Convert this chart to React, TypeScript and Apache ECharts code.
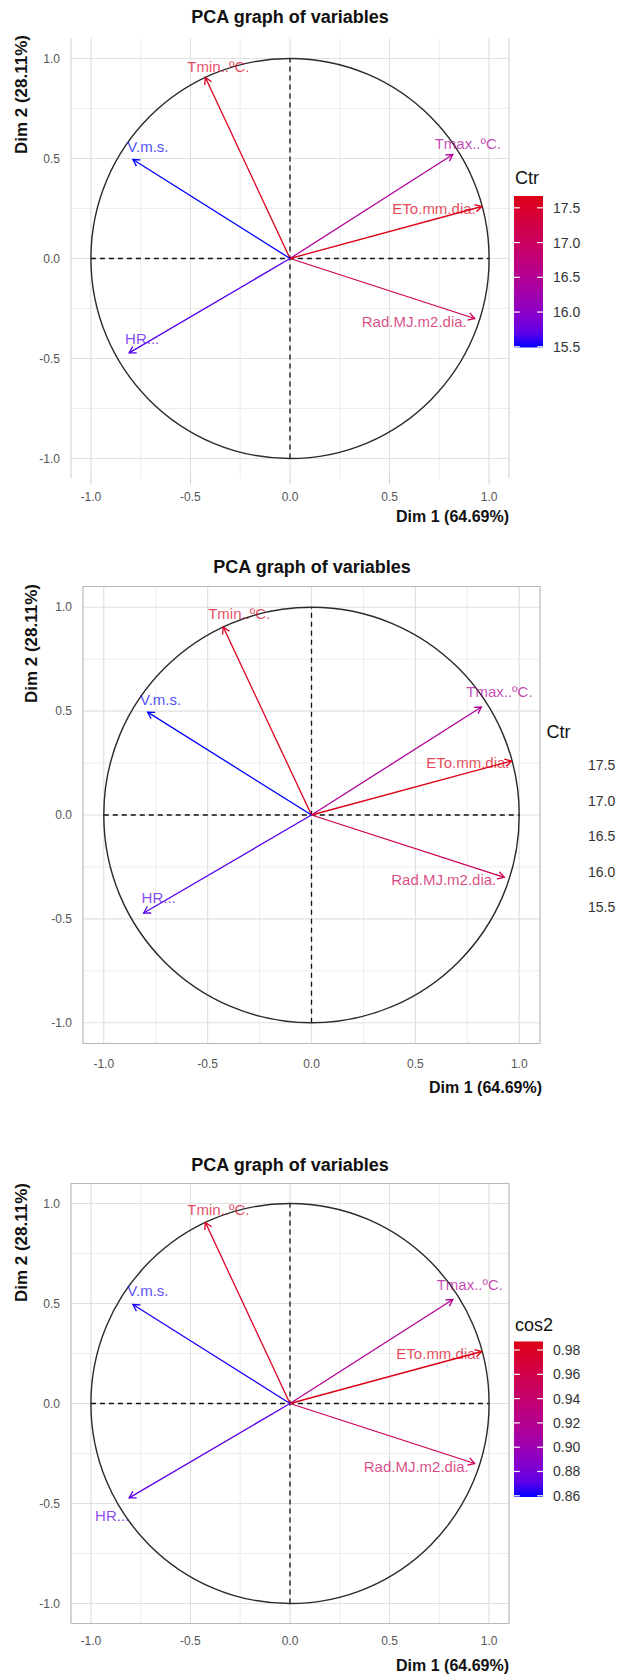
import React, { useEffect, useRef } from "react";
import * as echarts from "echarts";

// ---------- data ----------
const variables = ["Tmin..ºC.", "V.m.s.", "Tmax..ºC.", "ETo.mm.dia.", "Rad.MJ.m2.dia.", "HR..."];
const dim1 = [-0.425, -0.789, 0.818, 0.963, 0.928, -0.808];
const dim2 = [0.905, 0.495, 0.52, 0.26, -0.3, -0.472];
const ctr = [17.6, 15.49, 16.45, 17.67, 17.1, 15.65];
const cos2 = [0.98, 0.86, 0.918, 0.987, 0.952, 0.871];
const axisBreaks = [-1, -0.5, 0, 0.5, 1];
const minorBreaks = [-0.75, -0.25, 0.25, 0.75];
const ctrBreaks = [15.5, 16, 16.5, 17, 17.5];
const cos2Breaks = [0.86, 0.88, 0.9, 0.92, 0.94, 0.96, 0.98];
const ctrLimits = [15.49, 17.67];
const cos2Limits = [0.859, 0.987];
const axisLimits = [-1.1, 1.1];
const titleText = "PCA graph of variables";
const xName = "Dim 1 (64.69%)";
const yName = "Dim 2 (28.11%)";

// ---------- colour scale (Lab interpolation, like ggplot) ----------
const LOW = "#0000FF";
const HIGH = "#DC0014";
function hex2rgb(h: string) {
  const n = parseInt(h.slice(1), 16);
  return [(n >> 16) & 255, (n >> 8) & 255, n & 255];
}
function toLin(c: number) {
  c /= 255;
  return c <= 0.04045 ? c / 12.92 : Math.pow((c + 0.055) / 1.055, 2.4);
}
function fromLin(c: number) {
  const v = c <= 0.0031308 ? 12.92 * c : 1.055 * Math.pow(Math.max(c, 0), 1 / 2.4) - 0.055;
  return Math.round(Math.min(1, Math.max(0, v)) * 255);
}
const Xn = 0.95047, Zn = 1.08883;
function fL(t: number) { return t > 216 / 24389 ? Math.cbrt(t) : ((24389 / 27) * t + 16) / 116; }
function fLinv(t: number) { const t3 = t * t * t; return t3 > 216 / 24389 ? t3 : (116 * t - 16) / (24389 / 27); }
function rgb2lab(rgb: number[]) {
  const [r, g, b] = rgb.map(toLin);
  const X = (0.4124564 * r + 0.3575761 * g + 0.1804375 * b) / Xn;
  const Y = 0.2126729 * r + 0.7151522 * g + 0.072175 * b;
  const Z = (0.0193339 * r + 0.119192 * g + 0.9503041 * b) / Zn;
  const fx = fL(X), fy = fL(Y), fz = fL(Z);
  return [116 * fy - 16, 500 * (fx - fy), 200 * (fy - fz)];
}
function lab2css(lab: number[]) {
  const [L, a, b] = lab;
  const fy = (L + 16) / 116, fx = fy + a / 500, fz = fy - b / 200;
  const X = fLinv(fx) * Xn, Y = fLinv(fy), Z = fLinv(fz) * Zn;
  const r = 3.2404542 * X - 1.5371385 * Y - 0.4985314 * Z;
  const g = -0.969266 * X + 1.8760108 * Y + 0.041556 * Z;
  const bb = 0.0556434 * X - 0.2040259 * Y + 1.0572252 * Z;
  return "rgb(" + fromLin(r) + "," + fromLin(g) + "," + fromLin(bb) + ")";
}
const labLow = rgb2lab(hex2rgb(LOW));
const labHigh = rgb2lab(hex2rgb(HIGH));
function gradColor(t: number) {
  const u = Math.min(1, Math.max(0, t));
  return lab2css(labLow.map((v, i) => v + (labHigh[i] - v) * u));
}

// ---------- layout ----------
const FONT = "Liberation Sans";
type Place = { dx: number; dy: number; align: "center" | "right" | "left" };
interface Panel {
  grid: { left: number; top: number; width: number; height: number };
  framed: boolean;
  edgeLines: boolean;
  xLabelMargin: number;
  colorVals: number[];
  limits: number[];
  breaks: number[];
  decimals: number;
  legendTitle: string;
  legendGrid: { left: number; top: number; width: number; height: number };
  drawBar: boolean;
  legendTitlePos: [number, number];
  titlePos: [number, number];
  yNamePos: [number, number];
  xNamePos: [number, number];
  places: Place[];
}

const panels: Panel[] = [
  {
    grid: { left: 71, top: 38.5, width: 438, height: 440 },
    framed: false,
    edgeLines: true,
    xLabelMargin: 12,
    colorVals: ctr,
    limits: ctrLimits,
    breaks: ctrBreaks,
    decimals: 1,
    legendTitle: "Ctr",
    legendGrid: { left: 514, top: 196, width: 29, height: 151.5 },
    drawBar: true,
    legendTitlePos: [515, 178],
    titlePos: [290, 17],
    yNamePos: [21, 35],
    xNamePos: [509, 516.7],
    places: [
      { dx: 13, dy: -11, align: "center" },
      { dx: 15, dy: -13, align: "center" },
      { dx: 15, dy: -11, align: "center" },
      { dx: -6, dy: 2, align: "right" },
      { dx: -8, dy: 3, align: "right" },
      { dx: 13, dy: -14, align: "center" },
    ],
  },
  {
    grid: { left: 83, top: 586.5, width: 457, height: 457 },
    framed: true,
    edgeLines: false,
    xLabelMargin: 14,
    colorVals: ctr,
    limits: ctrLimits,
    breaks: ctrBreaks,
    decimals: 1,
    legendTitle: "Ctr",
    legendGrid: { left: 556, top: 753, width: 24, height: 155 },
    drawBar: false,
    legendTitlePos: [546.5, 731.7],
    titlePos: [312, 566.7],
    yNamePos: [31, 584],
    xNamePos: [542, 1087],
    places: [
      { dx: 16, dy: -14, align: "center" },
      { dx: 13, dy: -13, align: "center" },
      { dx: 18, dy: -15, align: "center" },
      { dx: -2, dy: 2, align: "right" },
      { dx: -8, dy: 2, align: "right" },
      { dx: 15, dy: -16, align: "center" },
    ],
  },
  {
    grid: { left: 71, top: 1183.5, width: 438, height: 440 },
    framed: true,
    edgeLines: false,
    xLabelMargin: 11,
    colorVals: cos2,
    limits: cos2Limits,
    breaks: cos2Breaks,
    decimals: 2,
    legendTitle: "cos2",
    legendGrid: { left: 514, top: 1341.5, width: 29, height: 155.5 },
    drawBar: true,
    legendTitlePos: [515, 1325],
    titlePos: [290, 1165],
    yNamePos: [21, 1183],
    xNamePos: [509, 1665],
    places: [
      { dx: 13, dy: -13, align: "center" },
      { dx: 15, dy: -14, align: "center" },
      { dx: 17, dy: -15, align: "center" },
      { dx: -2, dy: 2, align: "right" },
      { dx: -6, dy: 3, align: "right" },
      { dx: -17, dy: 18, align: "center" },
    ],
  },
];

function buildOption() {
  const grids: any[] = [];
  const xAxes: any[] = [];
  const yAxes: any[] = [];
  const series: any[] = [];
  const graphics: any[] = [];

  panels.forEach((p) => {
    const gi = grids.length;
    grids.push({ ...p.grid, containLabel: false });
    const labelStyle = { color: "#555", fontSize: 12, fontFamily: FONT };
    xAxes.push({
      type: "value", gridIndex: gi, min: axisLimits[0], max: axisLimits[1],
      axisLine: { show: false }, axisTick: { show: false }, splitLine: { show: false },
      axisLabel: { ...labelStyle, margin: p.xLabelMargin, customValues: axisBreaks, formatter: (v: number) => v.toFixed(1) },
    });
    yAxes.push({
      type: "value", gridIndex: gi, min: axisLimits[0], max: axisLimits[1],
      axisLine: { show: false }, axisTick: { show: false }, splitLine: { show: false },
      axisLabel: { ...labelStyle, margin: 11, customValues: axisBreaks, formatter: (v: number) => v.toFixed(1) },
    });

    // background: grid, frame, dashed axes, correlation circle
    series.push({
      type: "custom", xAxisIndex: gi, yAxisIndex: gi, z: 1, silent: true,
      data: [[0, 0]],
      renderItem: (_params: any, api: any) => {
        const ch: any[] = [];
        const [lo, hi] = axisLimits;
        const vline = (v: number, y0: number, y1: number, style: any) => {
          const a = api.coord([v, y0]);
          const b = api.coord([v, y1]);
          ch.push({ type: "line", shape: { x1: a[0], y1: a[1], x2: b[0], y2: b[1] }, style });
        };
        const hline = (v: number, x0: number, x1: number, style: any) => {
          const a = api.coord([x0, v]);
          const b = api.coord([x1, v]);
          ch.push({ type: "line", shape: { x1: a[0], y1: a[1], x2: b[0], y2: b[1] }, style });
        };
        const minorStyle = { stroke: "#EBEBEB", lineWidth: 0.9 };
        const majorStyle = { stroke: "#E0E0E0", lineWidth: 1.2 };
        minorBreaks.forEach((v) => { vline(v, lo, hi, minorStyle); hline(v, lo, hi, minorStyle); });
        axisBreaks.forEach((v) => { vline(v, lo, hi, majorStyle); hline(v, lo, hi, majorStyle); });
        if (p.edgeLines) {
          const es = { stroke: "#D2D2D2", lineWidth: 1.1 };
          vline(lo, lo, hi, es);
          vline(hi, lo, hi, es);
          axisBreaks.forEach((v) => {
            const a = api.coord([v, lo]);
            ch.push({ type: "line", shape: { x1: a[0], y1: a[1], x2: a[0], y2: a[1] + 5 }, style: { stroke: "#C8C8C8", lineWidth: 1 } });
          });
        }
        if (p.framed) {
          const tl = api.coord([lo, hi]);
          const br = api.coord([hi, lo]);
          ch.push({ type: "rect", shape: { x: tl[0], y: tl[1], width: br[0] - tl[0], height: br[1] - tl[1] }, style: { fill: "none", stroke: "#B8B8B8", lineWidth: 1.2 } });
        }
        const dash = { stroke: "#111", lineWidth: 1.3, lineDash: [5, 4] };
        hline(0, -1, 1, dash);
        vline(0, -1, 1, dash);
        const c = api.coord([0, 0]);
        const rx = api.coord([1, 0])[0] - c[0];
        const ry = c[1] - api.coord([0, 1])[1];
        ch.push({ type: "ellipse", shape: { cx: c[0], cy: c[1], rx, ry }, style: { fill: "none", stroke: "#2A2A2A", lineWidth: 1.4 } });
        return { type: "group", children: ch };
      },
    });

    // arrows
    series.push({
      type: "custom", xAxisIndex: gi, yAxisIndex: gi, z: 3, silent: true,
      data: variables.map((_, i) => [dim1[i], dim2[i], p.colorVals[i]]),
      renderItem: (params: any, api: any) => {
        const i = params.dataIndex;
        const o = api.coord([0, 0]);
        const t = api.coord([api.value(0), api.value(1)]);
        const col = gradColor((api.value(2) - p.limits[0]) / (p.limits[1] - p.limits[0]));
        const ang = Math.atan2(t[1] - o[1], t[0] - o[0]);
        const L = 7.5, A = Math.PI / 6;
        const h1 = [t[0] - L * Math.cos(ang - A), t[1] - L * Math.sin(ang - A)];
        const h2 = [t[0] - L * Math.cos(ang + A), t[1] - L * Math.sin(ang + A)];
        const pl = p.places[i];
        return {
          type: "group",
          children: [
            { type: "line", shape: { x1: o[0], y1: o[1], x2: t[0], y2: t[1] }, style: { stroke: col, lineWidth: 1.3 } },
            { type: "polyline", shape: { points: [h1, t, h2] }, style: { stroke: col, lineWidth: 1.3, fill: "none" } },
            {
              type: "text", x: t[0] + pl.dx, y: t[1] + pl.dy,
              style: { text: variables[i], fill: col, opacity: 0.72, fontSize: 15, fontFamily: FONT, align: pl.align, verticalAlign: "middle" },
            },
          ],
        };
      },
    });

    // colour bar legend
    const li = grids.length;
    grids.push({ ...p.legendGrid, containLabel: false });
    xAxes.push({ type: "value", gridIndex: li, min: 0, max: 1, show: false });
    yAxes.push({
      type: "value", gridIndex: li, min: p.limits[0], max: p.limits[1], position: "right",
      axisLine: { show: false }, axisTick: { show: false }, splitLine: { show: false },
      axisLabel: {
        color: "#333", fontSize: 14, fontFamily: FONT, margin: p.drawBar ? 10 : 8,
        customValues: p.breaks, formatter: (v: number) => v.toFixed(p.decimals),
      },
    });
    if (p.drawBar) {
      series.push({
        type: "custom", xAxisIndex: li, yAxisIndex: li, z: 2, silent: true,
        data: [[0, p.limits[0]]],
        renderItem: (_params: any, api: any) => {
          const tl = api.coord([0, p.limits[1]]);
          const br = api.coord([1, p.limits[0]]);
          const w = br[0] - tl[0];
          const stops: any[] = [];
          for (let k = 0; k <= 10; k++) stops.push({ offset: k / 10, color: gradColor(1 - k / 10) });
          const ch: any[] = [
            {
              type: "rect", shape: { x: tl[0], y: tl[1], width: w, height: br[1] - tl[1] },
              style: { fill: { type: "linear", x: 0, y: 0, x2: 0, y2: 1, colorStops: stops } },
            },
          ];
          p.breaks.forEach((b) => {
            const y = api.coord([0, b])[1];
            ch.push({ type: "line", shape: { x1: tl[0], y1: y, x2: tl[0] + w / 5, y2: y }, style: { stroke: "#fff", lineWidth: 1.2 } });
            ch.push({ type: "line", shape: { x1: br[0] - w / 5, y1: y, x2: br[0], y2: y }, style: { stroke: "#fff", lineWidth: 1.2 } });
          });
          return { type: "group", children: ch };
        },
      });
    }

    // texts
    graphics.push({
      type: "text", x: p.titlePos[0], y: p.titlePos[1],
      style: { text: titleText, fill: "#111", fontSize: 18, fontWeight: "bold", fontFamily: FONT, align: "center", verticalAlign: "middle" },
    });
    graphics.push({
      type: "text", x: p.xNamePos[0], y: p.xNamePos[1],
      style: { text: xName, fill: "#111", fontSize: 16, fontWeight: "bold", fontFamily: FONT, align: "right", verticalAlign: "middle" },
    });
    graphics.push({
      type: "text", x: p.yNamePos[0], y: p.yNamePos[1], rotation: Math.PI / 2,
      style: { text: yName, fill: "#111", fontSize: 17, fontWeight: "bold", fontFamily: FONT, align: "right", verticalAlign: "middle" },
    });
    graphics.push({
      type: "text", x: p.legendTitlePos[0], y: p.legendTitlePos[1],
      style: { text: p.legendTitle, fill: "#111", fontSize: 18, fontFamily: FONT, align: "left", verticalAlign: "middle" },
    });
  });

  return {
    animation: false,
    backgroundColor: "#fff",
    grid: grids,
    xAxis: xAxes,
    yAxis: yAxes,
    series,
    graphic: graphics,
  };
}

export default function App() {
  const ref = useRef<HTMLDivElement>(null);
  useEffect(() => {
    if (!ref.current) return;
    const chart = echarts.init(ref.current, null, { renderer: "svg" });
    chart.setOption(buildOption() as any);
    return () => chart.dispose();
  }, []);
  return <div ref={ref} style={{ position: "absolute", left: 0, top: 0, width: 621, height: 1675 }} />;
}
